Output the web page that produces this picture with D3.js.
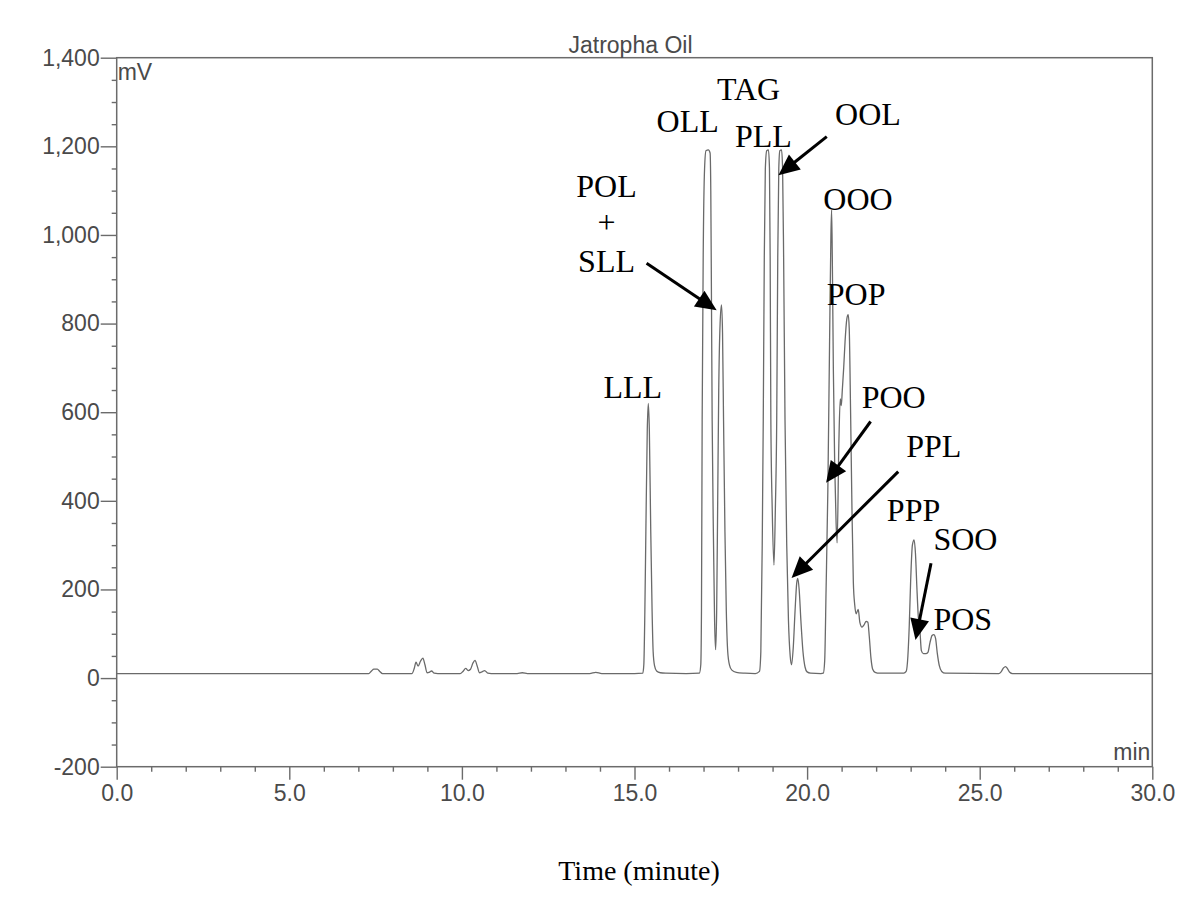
<!DOCTYPE html>
<html>
<head>
<meta charset="utf-8">
<script src="https://cdn.jsdelivr.net/npm/d3@7"></script>
<style>
  html, body { margin: 0; padding: 0; background: #fff; }
  svg { display: block; }
</style>
</head>
<body>
<svg id="chart" width="1200" height="905"></svg>
<script>
// ---------------- data ----------------
const title = "Jatropha Oil";
const yUnit = "mV";
const xUnit = "min";
const xTitle = "Time (minute)";

const xMajorTicks = [0, 5, 10, 15, 20, 25, 30];
const yMajorTicks = [-200, 0, 200, 400, 600, 800, 1000, 1200, 1400];

// chromatogram trace: time (min)
const traceTime = [
  0, 7.20, 7.30, 7.38, 7.45, 7.55, 7.62, 7.70,
  8.55, 8.62, 8.67, 8.73, 8.80, 8.87, 8.93, 8.99, 9.05, 9.12, 9.20, 9.30,
  9.95, 10.03, 10.11, 10.18, 10.25, 10.32, 10.38, 10.44, 10.51, 10.58, 10.66, 10.75, 10.85,
  11.60, 11.75, 11.90, 13.70, 13.88, 14.05, 15.00,
  15.24, 15.27, 15.30, 15.33, 15.37, 15.40, 15.43, 15.47, 15.51, 15.54, 15.58, 15.64, 15.75, 15.90, 16.50,
  16.88, 16.92, 16.94, 16.96, 16.99, 17.03, 17.07, 17.14, 17.19, 17.21, 17.23, 17.25, 17.29, 17.32, 17.35,
  17.38, 17.41, 17.44, 17.48, 17.52, 17.55, 17.58, 17.62, 17.66, 17.70, 17.75, 17.82, 17.95, 18.20, 18.50,
  18.62, 18.66, 18.70, 18.73, 18.76, 18.79, 18.83, 18.88, 18.91, 18.93, 18.95, 18.99, 19.04,
  19.08, 19.12, 19.15, 19.18, 19.21, 19.26, 19.29, 19.32, 19.36, 19.41, 19.46, 19.51, 19.55,
  19.60, 19.65, 19.70, 19.73, 19.77, 19.82, 19.88, 19.94, 20.00, 20.10, 20.40,
  20.47, 20.51, 20.55, 20.60, 20.65, 20.69, 20.71, 20.73, 20.76, 20.80, 20.84, 20.87,
  20.92, 20.96, 20.99, 21.02, 21.06, 21.10, 21.15, 21.19, 21.22, 21.26, 21.30, 21.34,
  21.38, 21.42, 21.48, 21.53, 21.59, 21.65, 21.71, 21.76, 21.80, 21.85, 21.90, 21.97, 22.10,
  22.80, 22.87, 22.92, 22.96, 23.00, 23.05, 23.10, 23.14, 23.18, 23.22, 23.27, 23.31,
  23.37, 23.44, 23.50, 23.56, 23.62, 23.67, 23.72, 23.77, 23.83, 23.90, 24.00,
  25.55, 25.62, 25.69, 25.75, 25.80, 25.87, 25.95, 30.00
];
// detector signal (mV) at each time above
const traceMV = [
  10, 10, 10, 16, 20, 20, 15, 10,
  10, 22, 36, 27, 38, 45, 30, 12, 13, 16, 11, 10,
  10, 15, 22, 17, 20, 34, 40, 28, 12, 14, 17, 11, 10,
  10, 12, 10, 10, 13, 10, 10,
  11, 30, 150, 335, 560, 620, 560, 335, 150, 60, 28, 16, 12, 11, 10,
  11, 30, 150, 580, 950, 1150, 1190, 1192, 1185, 1100, 850, 580, 300, 130, 64,
  150, 400, 650, 800, 842, 780, 580, 330, 150, 60, 30, 18, 13, 11, 10,
  15, 60, 300, 583, 950, 1150, 1190, 1192, 1150, 950, 583, 380, 255,
  380, 583, 950, 1150, 1190, 1192, 1150, 950, 583, 300, 130, 50, 30,
  70, 150, 215, 225, 200, 130, 60, 25, 14, 11, 10,
  11, 40, 200, 420, 750, 1000, 1056, 950, 700, 480, 350, 305,
  530, 630, 615, 650, 700, 760, 810, 820, 790, 600, 380, 215,
  165, 145, 155, 125, 115, 120, 128, 126, 95, 45, 20, 13, 11,
  11, 15, 50, 120, 220, 300, 312, 280, 205, 140, 105, 62,
  55, 55, 58, 80, 96, 98, 90, 57, 28, 15, 11,
  10, 14, 23, 26, 22, 13, 10, 10
];

// peak annotations: name, anchor time (min), anchor signal (mV)
const labelNames = ["TAG", "OLL", "PLL", "OOL", "POL", "+", "SLL", "OOO", "POP", "LLL", "POO", "PPL", "PPP", "SOO", "POS"];
const labelTime  = [17.39, 15.64, 17.91, 20.81, 14.19, 14.19, 14.19, 20.47, 20.57, 14.10, 21.58, 22.87, 22.31, 23.66, 23.66];
const labelMV    = [1305, 1233, 1199, 1248, 1086, 1004, 917, 1056, 842, 632, 609, 500, 355, 288, 109];
const labelCentered = ["POL", "+", "SLL"];

// arrows: from (time, mV) to tip (time, mV)
const arrowFromTime = [15.35, 20.57, 21.84, 22.64, 23.59];
const arrowFromMV   = [936, 1222, 579, 466, 259];
const arrowToTime   = [17.38, 19.17, 20.55, 19.55, 23.14];
const arrowToMV     = [830, 1135, 441, 226, 86];

// ---------------- drawing ----------------
const svg = d3.select("#chart");
const mLeft = 116.7, mRight = 1152.3, mTop = 57.7, mBottom = 766.7;

const x = d3.scaleLinear().domain([0, 30]).range([mLeft, mRight]);
const y = d3.scaleLinear().domain([-200, 1400]).range([mBottom, mTop]);

const axisColor = "#6b6b6b";
const textColor = "#4a4a4a";
const sans = "'Liberation Sans', Arial, sans-serif";
const serif = "'Liberation Serif', 'Times New Roman', serif";

// minor ticks
const xMinor = d3.range(0, 30.001, 1).filter(v => !xMajorTicks.includes(v));
const yMinor = d3.range(-200, 1400.001, 50).filter(v => !yMajorTicks.includes(v));

const commaFmt = d3.format(",");
const gx = svg.append("g").attr("transform", `translate(0,${mBottom})`);
gx.call(d3.axisBottom(x).tickValues(xMinor).tickSize(5).tickFormat(""));
gx.append("g").call(d3.axisBottom(x).tickValues(xMajorTicks).tickSize(13).tickPadding(5).tickFormat(d3.format(".1f")));
gx.selectAll(".domain").remove();

const gy = svg.append("g").attr("transform", `translate(${mLeft},0)`);
gy.call(d3.axisLeft(y).tickValues(yMinor).tickSize(5).tickFormat(""));
gy.append("g").call(d3.axisLeft(y).tickValues(yMajorTicks).tickSize(16).tickPadding(1)
  .tickFormat(d => commaFmt(d).replace("\u2212", "-")));
gy.selectAll(".domain").remove();

svg.selectAll(".tick line").attr("stroke", axisColor).attr("stroke-width", 1.4);
svg.selectAll(".tick text").attr("fill", textColor).attr("font-family", sans).attr("font-size", 23);

// frame
svg.append("rect")
  .attr("x", mLeft).attr("y", mTop)
  .attr("width", mRight - mLeft).attr("height", mBottom - mTop)
  .attr("fill", "none").attr("stroke", axisColor).attr("stroke-width", 1.5);

// title
svg.append("text").attr("x", x(15) - 4).attr("y", mTop - 5)
  .attr("text-anchor", "middle").attr("font-family", sans).attr("font-size", 23)
  .attr("fill", textColor).text(title);

// unit labels
svg.append("text").attr("x", mLeft + 1).attr("y", mTop + 22)
  .attr("font-family", sans).attr("font-size", 23).attr("fill", textColor).text(yUnit);
svg.append("text").attr("x", mRight - 2).attr("y", mBottom - 7)
  .attr("text-anchor", "end").attr("font-family", sans).attr("font-size", 23).attr("fill", textColor).text(xUnit);

// trace
const pts = traceTime.map((t, i) => [t, traceMV[i]]);
const line = d3.line().x(d => x(d[0])).y(d => y(d[1])).curve(d3.curveMonotoneX);
svg.append("path").datum(pts)
  .attr("d", line).attr("fill", "none")
  .attr("stroke", "#6a6a6a").attr("stroke-width", 1.3).attr("stroke-linejoin", "round");

// peak labels
svg.selectAll("text.peak").data(labelNames).join("text")
  .attr("class", "peak")
  .attr("x", (d, i) => x(labelTime[i]))
  .attr("y", (d, i) => y(labelMV[i]))
  .attr("text-anchor", d => labelCentered.includes(d) ? "middle" : "start")
  .attr("font-family", serif).attr("font-size", 32).attr("fill", "#000")
  .text(d => d);

// arrows
arrowFromTime.forEach((t, i) => {
  const x0 = x(t), y0 = y(arrowFromMV[i]);
  const x1 = x(arrowToTime[i]), y1 = y(arrowToMV[i]);
  const dx = x1 - x0, dy = y1 - y0, len = Math.hypot(dx, dy);
  const ux = dx / len, uy = dy / len;
  const headLen = 21, headHalf = 9.5;
  const bx = x1 - ux * headLen, by = y1 - uy * headLen;
  svg.append("line").attr("x1", x0).attr("y1", y0).attr("x2", bx + ux * 2).attr("y2", by + uy * 2)
    .attr("stroke", "#000").attr("stroke-width", 3);
  svg.append("polygon")
    .attr("points", [[x1, y1], [bx - uy * headHalf, by + ux * headHalf], [bx + uy * headHalf, by - ux * headHalf]].map(p => p.join(",")).join(" "))
    .attr("fill", "#000");
});

// x title
svg.append("text").attr("x", 639).attr("y", 880)
  .attr("text-anchor", "middle").attr("font-family", serif).attr("font-size", 28)
  .attr("fill", "#000").text(xTitle);
</script>
</body>
</html>
